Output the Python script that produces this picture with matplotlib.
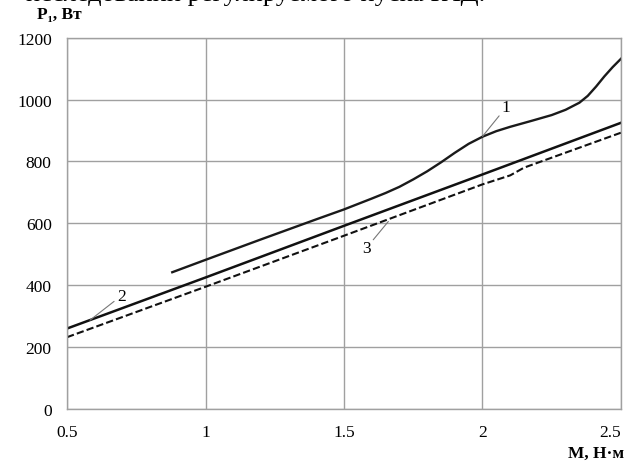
import matplotlib.pyplot as plt

plt.rcParams['font.family'] = ['Liberation Serif', 'DejaVu Serif']

# Data
m2 = [0.5, 1.0, 1.5, 2.0, 2.5]
p2 = [260, 425, 592, 758, 925]

m3 = [0.5, 1.0, 1.5, 2.0, 2.1, 2.15, 2.5]
p3 = [232, 395, 560, 726, 755, 780, 893]

m1 = [0.88, 1.0, 1.2, 1.4, 1.5, 1.6, 1.65, 1.7, 1.75, 1.8, 1.85, 1.9, 1.95, 2.0,
      2.05, 2.1, 2.18, 2.25, 2.3, 2.35, 2.38, 2.41, 2.44, 2.47, 2.5]
p1 = [442, 482, 548, 613, 645, 680, 698, 718, 742, 768, 797, 828, 857, 880,
      898, 912, 932, 950, 967, 990, 1012, 1042, 1075, 1105, 1132]

xticks = [0.5, 1, 1.5, 2, 2.5]
xtick_labels = ['0.5', '1', '1.5', '2', '2.5']
yticks = [0, 200, 400, 600, 800, 1000, 1200]

fig = plt.figure(figsize=(6.4, 4.64), dpi=100)
ax = fig.add_axes([0.1047, 0.1164, 0.8656, 0.8002])

ax.plot(m1, p1, color='#1a1a1a', lw=1.7, solid_joinstyle='round')
ax.plot(m2, p2, color='#111111', lw=1.8)
ax.plot(m3, p3, color='#111111', lw=1.5, ls=(0, (3.5, 1.5)))

ax.set_xlim(0.5, 2.5)
ax.set_ylim(0, 1200)
ax.set_xticks(xticks)
ax.set_xticklabels(xtick_labels)
ax.set_yticks(yticks)
ax.tick_params(length=0, labelsize=12.5)
ax.tick_params(axis='y', pad=11)
ax.tick_params(axis='x', pad=11)
ax.get_xticklabels()[-1].set_ha('right')
ax.grid(True, color='#a0a0a0', lw=1)
for s in ax.spines.values():
    s.set_color('#a0a0a0')
    s.set_linewidth(1)

# curve labels with leader lines
ax.annotate('1', xy=(2.0, 881), xytext=(2.07, 950), fontsize=12.5,
            ha='left', va='bottom',
            arrowprops=dict(arrowstyle='-', color='#777777', lw=0.8, shrinkA=0, shrinkB=0))
ax.annotate('2', xy=(0.583, 287), xytext=(0.68, 340), fontsize=12.5,
            ha='left', va='bottom',
            arrowprops=dict(arrowstyle='-', color='#777777', lw=0.8, shrinkA=0, shrinkB=0))
ax.annotate('3', xy=(1.66, 606), xytext=(1.58, 545), fontsize=12.5,
            ha='center', va='top',
            arrowprops=dict(arrowstyle='-', color='#777777', lw=0.8, shrinkA=0, shrinkB=0))

fig.text(0.058, 0.95, 'P\u2081, Вт', fontsize=12.5, fontweight='bold', ha='left', va='bottom')
fig.text(0.975, 0.004, 'М, Н·м', fontsize=12.5, fontweight='bold', ha='right', va='bottom')

# cropped caption line at the very top
fig.text(0.04, 1.012, 'исследований регулируемого пуска РАД.', fontsize=19, ha='left', va='center')

fig.savefig('out.png', dpi=100)
